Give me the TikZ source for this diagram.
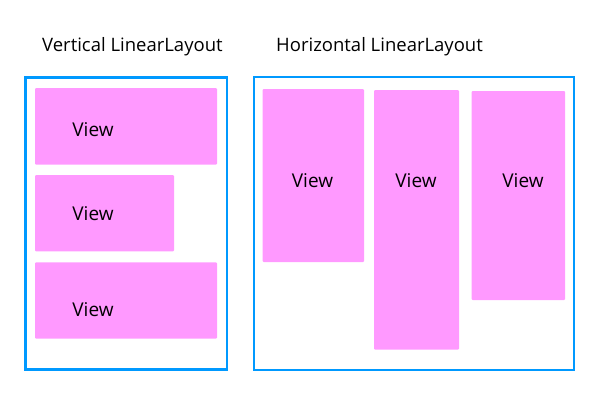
\documentclass[tikz,border=0pt]{standalone}
\usepackage{fontspec}
\setmainfont{Open Sans}
\definecolor{frameblue}{HTML}{0099FF}
\definecolor{viewpink}{HTML}{FF99FF}
\tikzset{
  frame/.style={draw=frameblue, line width=2.7pt},
  viewbox/.style={fill=viewpink, rounded corners=1pt},
  viewlabel/.style={font=\fontsize{19}{21}\selectfont, inner sep=0pt},
  titlelabel/.style={font=\fontsize{18.5}{21}\selectfont, inner sep=0pt, anchor=west}
}
\begin{document}
\begin{tikzpicture}[x=1pt,y=-1pt]
\useasboundingbox (0,0) rectangle (600,400);
% titles
\node[titlelabel] (t1) at (42,47) {Vertical LinearLayout};
\node[titlelabel] (t2) at (276,47) {Horizontal LinearLayout};
% frames
\draw[frame] (25.5,77.5) rectangle (227,369.5);
\draw[frame] (254,77) rectangle (574,370);
% vertical views
\fill[viewbox] (35,88) rectangle (217,164.5);
\fill[viewbox] (35,175) rectangle (174,251.3);
\fill[viewbox] (35,262.3) rectangle (217,338.7);
\node[viewlabel] (v1) at (93,129.5) {View};
\node[viewlabel] (v2) at (93,213.5) {View};
\node[viewlabel] (v3) at (93,310) {View};
% horizontal views
\fill[viewbox] (262.7,89) rectangle (364,262);
\fill[viewbox] (374,90) rectangle (459,349.7);
\fill[viewbox] (471.7,91) rectangle (565,300);
\node[viewlabel] (h1) at (312.5,181) {View};
\node[viewlabel] (h2) at (416,181) {View};
\node[viewlabel] (h3) at (523,181) {View};
\end{tikzpicture}
\end{document}
